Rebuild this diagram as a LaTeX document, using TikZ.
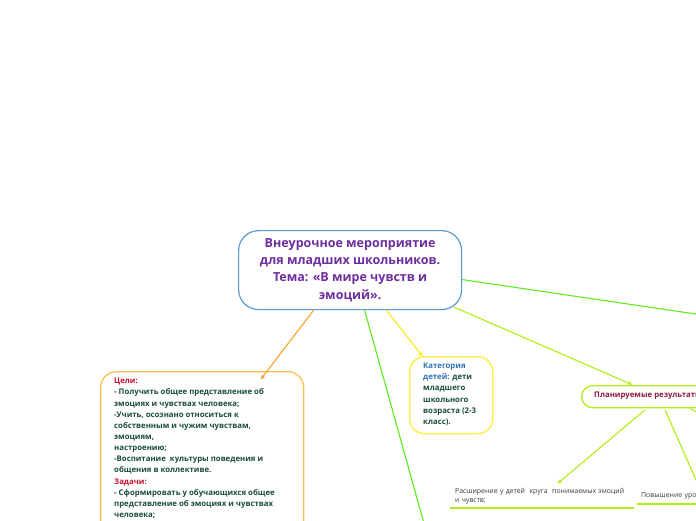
\documentclass[tikz,border=0pt]{standalone}
\usepackage{fontspec}
\setmainfont{Open Sans}
\usetikzlibrary{arrows.meta}
\definecolor{cblue}{HTML}{5B9BD5}
\definecolor{cpurple}{HTML}{6E2E9E}
\definecolor{orangebox}{HTML}{FFBE55}
\definecolor{orangearr}{HTML}{F9A12A}
\definecolor{yelbox}{HTML}{FFF035}
\definecolor{yelarr}{HTML}{FFE81A}
\definecolor{brgreen}{HTML}{5EEB1E}
\definecolor{ygreen}{HTML}{AEEE14}
\definecolor{tblue}{HTML}{2E74B5}
\definecolor{tdgreen}{HTML}{1A4D3A}
\definecolor{tred}{HTML}{C8102E}
\definecolor{tplan}{HTML}{8E1B3F}
\definecolor{tgray}{HTML}{3A3A3A}
\tikzset{
  conn/.style={line width=1.1pt,-{Latex[length=5pt,width=4pt]}},
  plainline/.style={line width=1.1pt},
  boxshape/.style={line width=1.3pt,anchor=north west,inner sep=0pt},
  boxtext/.style={anchor=north west,inner sep=0pt,align=left,font=\bfseries\fontsize{7.8}{11.1}\selectfont,text=tdgreen},
  smalltext/.style={anchor=north west,inner ysep=0pt,inner xsep=5pt,align=left,font=\fontsize{6.9}{9}\selectfont,text=tgray},
  under/.style={line width=2pt,ygreen}
}
\begin{document}
\begin{tikzpicture}[x=1pt,y=1pt]
\useasboundingbox (0,0) rectangle (696,-520);
\clip (0,0) rectangle (696,-520);
\fill[white] (0,0) rectangle (696,-520);

% central node
\node[draw=cblue,line width=1.2pt,rounded corners=20pt,minimum width=223pt,minimum height=79pt,
      anchor=north west,inner sep=0pt,align=center,text=cpurple,
      font=\bfseries\fontsize{12.5}{17.3}\selectfont] (main) at (238,-230)
  {Внеурочное мероприятие\hspace{4pt}\\для младших школьников.\hspace{13pt}\\Тема: «В мире чувств и\hspace{6pt}\\эмоций».};

% goals box
\node[boxshape,draw=orangebox,rounded corners=16pt,minimum width=203pt,minimum height=180pt] (goals) at (100,-371) {};
\node[boxtext,font=\bfseries\fontsize{7.8}{11.15}\selectfont] (goalstext) at (114,-378)
  {\textcolor{tred}{Цели:}\\
   - Получить общее представление об\\
   эмоциях и чувствах человека;\\
   -Учить, осознано относиться к\\
   собственным и чужим чувствам,\\
   эмоциям,\\
   настроению;\\
   -Воспитание\ \ культуры поведения и\\
   общения в коллективе.\\
   \textcolor{tred}{Задачи:}\\
   - Сформировать у обучающихся общее\\
   представление об эмоциях и чувствах\\
   человека;};

% category box
\node[boxshape,draw=yelbox,rounded corners=15pt,minimum width=83pt,minimum height=77pt] (cat) at (409,-356) {};
\node[boxtext,font=\bfseries\fontsize{7.8}{11.3}\selectfont] (cattext) at (423,-362.5)
  {\textcolor{tblue}{Категория}\\
   \textcolor{tblue}{детей:} дети\\
   младшего\\
   школьного\\
   возраста (2-3\\
   класс).};

% planned results
\node[boxshape,draw=ygreen,rounded corners=11pt,minimum width=150pt,minimum height=22pt] (plan) at (581,-385) {};
\node[anchor=west,inner sep=0pt,font=\bfseries\fontsize{7.8}{9}\selectfont,text=tplan] (plantext) at (594,-396) {Планируемые результаты};

% bottom text nodes
\node[smalltext,text width=174pt,minimum height=23pt] (ext) at (450,-485)
  {Расширение у детей\ \ круга\ \ понимаемых эмоций\\и чувств;};
\draw[under] (ext.south west) -- (ext.south east);
\node[smalltext,inner xsep=4pt,text width=90pt,minimum height=16pt] (raise) at (637,-488)
  {Повышение уровня};
\draw[under] (raise.south west) -- (raise.south east);

% free ends
\coordinate (cdown) at (428.6,-540);
\coordinate (cright) at (710,-316.1);
\coordinate (pdown) at (700,-489);
\coordinate (pright) at (702,-415);

% connectors
\draw[conn,orangearr] ([xshift=-36.5pt]main.south) -- ([xshift=-44pt,yshift=-9pt]goals.north east);
\draw[conn,yelarr] ([xshift=36.5pt]main.south) -- ([xshift=14pt,yshift=-1pt]cat.north west);
\draw[plainline,brgreen] ([xshift=14.5pt]main.south) -- (cdown);
\draw[plainline,brgreen] ([yshift=-9.5pt]main.east) -- (cright);
\draw[conn,ygreen] ([xshift=-8pt,yshift=3pt]main.south east) -- ([xshift=52pt]plan.north west);
\draw[conn,ygreen] ([xshift=64pt,yshift=-1.5pt]plan.south west) -- ([xshift=107pt,yshift=1pt]ext.north west);
\draw[plainline,ygreen] ([xshift=84pt,yshift=-1.5pt]plan.south west) -- (pdown);
\draw[plainline,ygreen] ([xshift=109pt,yshift=0pt]plan.south west) -- (pright);
\end{tikzpicture}
\end{document}
